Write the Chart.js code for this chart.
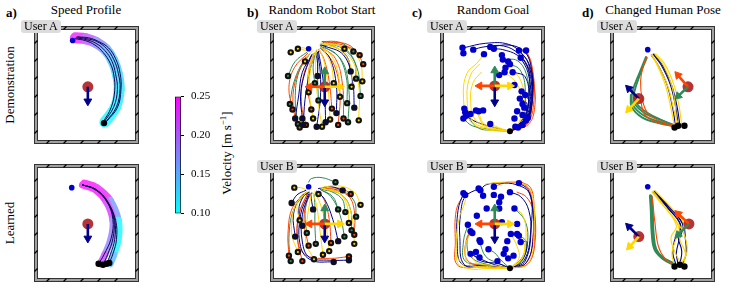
<!DOCTYPE html>
<html>
<head>
<meta charset="utf-8">
<script src="https://cdn.jsdelivr.net/npm/chart.js@4.4.0/dist/chart.umd.min.js"></script>
<style>
body { margin: 0; background: #fff; }
#fig { position: relative; width: 747px; height: 292px; font-family: 'Liberation Serif', 'DejaVu Serif', serif; color: #000; overflow: hidden; }
#fig canvas { position: absolute; }
.t { position: absolute; white-space: nowrap; font-size: 13px; line-height: 1; transform: translate(-50%, -50%); }
.v { position: absolute; white-space: nowrap; font-size: 13px; line-height: 1; transform: translate(-50%, -50%) rotate(-90deg); }
.lt { position: absolute; font-weight: bold; font-size: 13px; line-height: 1; }
.user { position: absolute; background: #dcdcdc; border-radius: 3px; font-size: 12px; line-height: 13px; height: 13px; padding: 0 3px; white-space: nowrap; }
</style>
</head>
<body>
<div id="fig">
  <div class="lt" style="left:6px;top:6px">a)</div>
  <div class="lt" style="left:247px;top:6px">b)</div>
  <div class="lt" style="left:412px;top:6px">c)</div>
  <div class="lt" style="left:582px;top:6px">d)</div>
  <div class="t" style="left:86px;top:9px">Speed Profile</div>
  <div class="t" style="left:322px;top:9px">Random Robot Start</div>
  <div class="t" style="left:493px;top:9px">Random Goal</div>
  <div class="t" style="left:663px;top:9px">Changed Human Pose</div>
  <div class="v" style="left:9px;top:85px">Demonstration</div>
  <div class="v" style="left:9px;top:223px">Learned</div>
  <div class="v" style="left:226px;top:153px">Velocity [m s<sup style="font-size:9px">−1</sup>]</div>

  <canvas id="aTop" width="105" height="118" style="left:34px;top:26px"></canvas>
  <canvas id="aBot" width="105" height="118" style="left:34px;top:164px"></canvas>
  <canvas id="cbar" width="50" height="144" style="left:170px;top:83px"></canvas>
  <canvas id="bTop" width="105" height="118" style="left:270px;top:26px"></canvas>
  <canvas id="bBot" width="105" height="118" style="left:270px;top:164px"></canvas>
  <canvas id="cTop" width="105" height="118" style="left:440px;top:26px"></canvas>
  <canvas id="cBot" width="105" height="118" style="left:440px;top:164px"></canvas>
  <canvas id="dTop" width="105" height="118" style="left:610px;top:26px"></canvas>
  <canvas id="dBot" width="105" height="118" style="left:610px;top:164px"></canvas>

  <div class="user" style="left:21px;top:20px">User A</div>
  <div class="user" style="left:257px;top:20px">User A</div>
  <div class="user" style="left:257px;top:160px">User B</div>
  <div class="user" style="left:427px;top:20px">User A</div>
  <div class="user" style="left:427px;top:160px">User B</div>
  <div class="user" style="left:597px;top:20px">User A</div>
  <div class="user" style="left:597px;top:160px">User B</div>
</div>
<script>
// room coordinates: x to the right, y downwards, 105 x 118 units per room

// a) speed profile
const aDemoGoal = [[37, 10]];
const aDemoEnd = [[72, 101]];
const aDemoHuman = [[54, 61]];
const aDemoFacing = { navy: [0, 54, 81] };
const aDemoBand = [[40, 7], [52, 8], [63, 12], [74, 20], [82, 32], [87, 47], [89, 64], [85, 83], [73, 100]];
const aDemoSpeed = [0.25, 0.23, 0.19, 0.16, 0.14, 0.13, 0.12, 0.11, 0.10];
const aDemoPaths = [
  [[41, 7], [52, 9], [63, 13], [73, 21], [81, 33], [85, 47], [87, 64], [83, 83], [72, 100]],
  [[42, 6], [53, 8], [64, 11], [75, 19], [83, 31], [88, 46], [90, 63], [86, 83], [74, 100]],
  [[40, 8], [51, 10], [62, 15], [71, 23], [79, 35], [83, 48], [84, 65], [80, 84], [71, 100]],
  [[43, 6], [55, 7], [66, 11], [77, 18], [85, 30], [90, 46], [91, 64], [87, 84], [75, 99]]
];

const aLearnGoal = [[36, 20]];
const aLearnHuman = [[54, 60]];
const aLearnFacing = { navy: [0, 54, 80] };
const aLearnBandOuter = [[50, 15], [64, 20], [79, 34], [88, 56], [88, 77], [83, 94], [79, 104]];
const aLearnSpeedOuter = [0.25, 0.25, 0.22, 0.11, 0.10, 0.11, 0.18];
const aLearnBandInner = [[48, 17], [62, 22], [75, 36], [82, 56], [80, 76], [73, 94], [68, 104]];
const aLearnSpeedInner = [0.25, 0.25, 0.25, 0.20, 0.17, 0.19, 0.24];
const aLearnPaths = [
  [[48, 17], [62, 22], [75, 35], [82, 55], [80, 76], [72, 94], [66, 104]],
  [[48, 17], [62, 22], [75, 35], [83, 55], [82, 76], [76, 94], [71, 105]],
  [[48, 17], [63, 22], [76, 35], [84, 56], [84, 77], [79, 94], [75, 104]],
  [[48, 17], [63, 22], [76, 36], [85, 56], [86, 77], [82, 93], [78, 103]]
];

// colour bar
const cbarRange = [0.10, 0.25];
const cbarTicks = [0.10, 0.15, 0.20, 0.25];

// b) random robot start (paths run from start to goal)
const bTopGoal = [[37, 19]];
const bTopHuman = [[55, 61]];
const bTopFacing = { green: [0, 55, 40], navy: [0, 55, 82], orange: [0, 34, 61], gold: [0, 76, 61] };
const bTopGreen = [
  [[14, 49], [22, 33], [35, 23]],
  [[25, 102], [22, 75], [26, 45], [38, 25]],
  [[95, 71], [91, 40], [77, 20], [53, 12]],
  [[87, 22], [72, 12], [52, 11]],
  [[48, 76], [47, 50], [47, 30], [46, 21]],
  [[80, 79], [79, 50], [69, 26], [50, 16]],
  [[44, 57], [42, 40], [44, 25]],
  [[16, 80], [20, 58], [28, 38], [38, 25]],
  [[90, 52], [88, 32], [74, 17], [52, 13]],
  [[81, 100], [82, 65], [74, 32], [52, 15]]
];
const bTopOrange = [
  [[19, 86], [15, 62], [21, 40], [36, 24]],
  [[34, 103], [29, 80], [31, 50], [40, 26]],
  [[94, 26], [80, 14], [55, 12]],
  [[76, 96], [75, 60], [67, 30], [51, 17]],
  [[63, 85], [60, 55], [54, 30], [48, 20]],
  [[98, 36], [90, 22], [72, 14], [54, 13]],
  [[40, 86], [36, 62], [38, 38], [43, 24]],
  [[27, 106], [20, 85], [22, 55], [34, 28]],
  [[70, 103], [72, 70], [66, 38], [52, 18]]
];
const bTopNavy = [
  [[31, 103], [33, 75], [38, 45], [44, 24]],
  [[46, 105], [50, 75], [50, 45], [47, 23]],
  [[68, 90], [68, 60], [61, 30], [50, 18]],
  [[88, 84], [86, 55], [76, 26], [52, 15]],
  [[47, 49], [47, 35], [45, 24]],
  [[22, 96], [26, 70], [30, 45], [40, 27]],
  [[84, 44], [80, 28], [66, 17], [50, 15]],
  [[30, 96], [28, 70], [33, 45], [41, 25]],
  [[56, 100], [55, 72], [52, 45], [48, 22]]
];
const bTopGold = [
  [[17, 23], [26, 20], [35, 21]],
  [[25, 19], [31, 18], [36, 20]],
  [[37, 67], [37, 45], [41, 28], [46, 20]],
  [[42, 96], [38, 70], [39, 42], [44, 24]],
  [[85, 61], [84, 38], [72, 20], [52, 14]],
  [[93, 98], [93, 60], [83, 28], [55, 13]],
  [[77, 19], [66, 14], [50, 13]],
  [[65, 57], [62, 36], [53, 19]],
  [[61, 97], [59, 65], [55, 36], [49, 19]],
  [[33, 33], [37, 26], [42, 21]],
  [[72, 72], [70, 46], [62, 26], [50, 17]],
  [[52, 105], [48, 80], [45, 50], [45, 23]],
  [[97, 55], [95, 35], [84, 20], [56, 13]]
];

const bBotGoal = [[37, 19]];
const bBotHuman = [[55, 60]];
const bBotFacing = { green: [0, 55, 39], navy: [0, 55, 80], orange: [0, 34, 60], gold: [0, 76, 60] };
const bBotGreen = [
  [[85, 67], [84, 45], [74, 28], [52, 22]],
  [[77, 74], [72, 50], [62, 30], [50, 22]],
  [[17, 101], [15, 75], [20, 45], [34, 25]],
  [[70, 44], [64, 30], [50, 22]],
  [[67, 14], [52, 9], [40, 10], [37, 14]],
  [[45, 82], [44, 60], [44, 40], [43, 27]],
  [[78, 47], [74, 32], [58, 22]],
  [[90, 52], [88, 35], [75, 24], [54, 21]],
  [[35, 70], [33, 50], [36, 33], [41, 26]]
];
const bBotOrange = [
  [[82, 96], [60, 98], [35, 95], [25, 80], [26, 50], [36, 26]],
  [[30, 101], [25, 80], [26, 50], [36, 26]],
  [[62, 81], [60, 55], [55, 35], [48, 24]],
  [[84, 27], [74, 21], [55, 21]],
  [[88, 72], [88, 45], [80, 28], [56, 21]],
  [[37, 84], [32, 60], [34, 38], [40, 26]],
  [[15, 95], [14, 70], [19, 42], [34, 25]]
];
const bBotNavy = [
  [[82, 100], [60, 100], [38, 97], [30, 80], [30, 50], [38, 27]],
  [[22, 74], [20, 50], [28, 30], [37, 25]],
  [[70, 79], [64, 55], [55, 33], [46, 24]],
  [[75, 23], [62, 19], [48, 21]],
  [[42, 44], [40, 32], [40, 26]],
  [[18, 37], [24, 28], [34, 23]],
  [[65, 102], [40, 100], [28, 85], [28, 50], [37, 27]],
  [[30, 62], [26, 45], [31, 30], [38, 25]]
];
const bBotGold = [
  [[27, 56], [24, 40], [30, 28], [38, 24]],
  [[25, 91], [18, 70], [22, 40], [35, 25]],
  [[43, 99], [34, 80], [36, 50], [40, 27]],
  [[95, 39], [88, 25], [70, 18], [50, 20]],
  [[53, 94], [50, 70], [46, 40], [42, 26]],
  [[82, 59], [80, 40], [70, 25], [52, 21]],
  [[21, 20], [28, 20], [34, 22]],
  [[48, 27], [44, 24]],
  [[60, 90], [56, 60], [50, 38], [44, 25]],
  [[88, 82], [86, 55], [76, 30], [54, 21]]
];

// c) random goal (paths run from the common start to each goal)
const cTopStart = [[72, 110]];
const cTopHuman = [[55, 60]];
const cTopFacing = { green: [0, 55, 39], navy: [0, 55, 82], orange: [0, 34, 60], gold: [0, 76, 60] };
const cTopGoals = [[19, 18], [20, 24], [31, 20], [43, 25], [50, 17], [54, 19], [63, 26], [64, 31], [70, 33], [82, 21],
  [90, 21], [84, 29], [75, 45], [66, 45], [60, 48], [77, 59], [85, 66], [83, 74], [80, 88], [86, 92], [90, 98], [92, 95],
  [77, 96], [81, 106], [21, 85], [37, 88], [42, 87], [23, 93], [20, 96], [22, 89], [50, 102], [88, 84], [86, 80],
  [89, 70], [67, 40], [72, 36], [78, 105], [86, 103], [34, 87], [28, 91]];
const cTopNavy = [
  [[72, 110], [88, 99], [95, 72], [92, 45], [84, 29]],
  [[72, 110], [90, 100], [97, 70], [94, 40], [86, 25], [70, 14], [45, 13], [20, 18]],
  [[72, 110], [89, 99], [96, 72], [93, 42], [82, 25], [65, 16], [43, 17], [31, 20]],
  [[72, 110], [87, 98], [93, 72], [89, 50], [77, 45]],
  [[72, 110], [82, 102], [90, 98]],
  [[72, 110], [86, 97], [91, 80], [83, 74]],
  [[72, 110], [90, 99], [98, 62], [93, 35], [82, 21]],
  [[72, 110], [88, 97], [94, 62], [91, 38], [80, 26], [64, 20], [54, 19]],
  [[72, 110], [55, 106], [35, 100], [23, 93]],
  [[72, 110], [89, 98], [95, 80], [89, 70]],
  [[72, 110], [91, 100], [97, 66], [95, 36], [88, 22], [72, 15], [50, 17]]
];
const cTopOrange = [
  [[72, 110], [92, 101], [99, 72], [97, 42], [90, 24], [82, 21]],
  [[72, 110], [91, 100], [98, 65], [96, 35], [90, 21]],
  [[72, 110], [93, 102], [100, 80], [98, 55], [93, 40], [86, 33]],
  [[72, 110], [90, 101], [96, 85], [88, 84]]
];
const cTopGreen = [
  [[72, 110], [88, 98], [93, 70], [90, 46], [80, 32], [64, 31]],
  [[72, 110], [52, 108], [30, 104], [20, 96]],
  [[72, 110], [86, 96], [89, 62], [83, 42], [72, 36]],
  [[72, 110], [55, 109], [36, 106], [22, 89]],
  [[72, 110], [90, 100], [95, 78], [86, 92]]
];
const cTopGold = [
  [[72, 110], [45, 108], [26, 97], [20, 70], [24, 46], [35, 35], [43, 25]],
  [[72, 110], [48, 107], [30, 98], [24, 72], [28, 48], [38, 36]],
  [[72, 110], [50, 106], [33, 97], [28, 75], [31, 56], [40, 45]],
  [[72, 110], [56, 106], [42, 101], [37, 88]],
  [[72, 110], [58, 108], [44, 105], [34, 87]],
  [[72, 110], [86, 95], [88, 70], [82, 50], [75, 45]],
  [[72, 110], [84, 96], [84, 70], [78, 55], [66, 45]],
  [[72, 110], [62, 107], [50, 102]]
];

const cBotStart = [[72, 109]];
const cBotHuman = [[55, 60]];
const cBotFacing = { green: [0, 55, 39], navy: [0, 55, 81], orange: [0, 34, 60], gold: [0, 76, 60] };
const cBotGoals = [[20, 26], [22, 28], [37, 21], [39, 23], [42, 29], [54, 19], [54, 28], [62, 30], [72, 25], [82, 15],
  [60, 43], [77, 43], [46, 43], [35, 51], [28, 68], [30, 70], [38, 78], [39, 80], [28, 93], [34, 91], [38, 97],
  [48, 88], [58, 101], [65, 93], [70, 98], [73, 71], [80, 71], [82, 73], [84, 80], [69, 79], [67, 88], [76, 95],
  [25, 61], [80, 60], [60, 36], [63, 58]];
const cBotNavy = [
  [[72, 109], [40, 106], [18, 104], [13, 80], [14, 45], [20, 26]],
  [[72, 109], [45, 107], [21, 105], [16, 75], [17, 48], [22, 30], [37, 21]],
  [[72, 109], [90, 103], [98, 75], [97, 40], [92, 22], [82, 15]],
  [[72, 109], [88, 100], [95, 70], [93, 45], [84, 30], [72, 25]],
  [[72, 109], [60, 104], [40, 101], [30, 93]],
  [[72, 109], [89, 101], [96, 60], [94, 27], [80, 17], [60, 15], [45, 17], [39, 23]],
  [[72, 109], [55, 105], [40, 99], [28, 93]],
  [[72, 109], [86, 99], [91, 80], [84, 80]]
];
const cBotOrange = [
  [[72, 109], [92, 104], [100, 80], [99, 40], [95, 20], [85, 14]],
  [[72, 109], [91, 102], [98, 70], [97, 35], [90, 18], [70, 14], [54, 19]],
  [[72, 109], [35, 108], [13, 105], [11, 80], [12, 45], [20, 28]],
  [[72, 109], [50, 106], [30, 104], [22, 95], [24, 75], [28, 68]],
  [[72, 109], [93, 103], [100, 70], [98, 45], [90, 30], [80, 25]]
];
const cBotGreen = [
  [[72, 109], [45, 105], [22, 101], [20, 80], [25, 61]],
  [[72, 109], [86, 100], [92, 75], [88, 55], [77, 43]],
  [[72, 109], [58, 103], [45, 96], [38, 80]],
  [[72, 109], [85, 98], [90, 80], [80, 71]],
  [[72, 109], [62, 100], [55, 92], [48, 88]],
  [[72, 109], [44, 104], [28, 96], [24, 80], [28, 68]]
];
const cBotGold = [
  [[72, 109], [40, 108], [16, 106], [12, 85], [15, 55], [22, 35], [22, 28]],
  [[72, 109], [48, 107], [26, 104], [22, 85], [28, 70]],
  [[72, 109], [55, 106], [35, 103], [30, 95], [34, 91]],
  [[72, 109], [85, 99], [90, 70], [86, 50], [77, 43]],
  [[72, 109], [86, 98], [88, 82], [82, 73]],
  [[72, 109], [50, 109], [25, 109], [14, 98]],
  [[72, 109], [93, 103], [99, 60], [96, 25], [85, 15], [62, 14], [45, 16]],
  [[72, 109], [82, 98], [80, 85], [73, 71]]
];

// d) changed human pose (paths run from start to goal)
const dTopGoal = [[36, 20]];
const dTopStarts = [[66, 106], [70, 104], [77, 104]];
const dTopHumans = [[26, 74], [81, 61]];
const dTopFacing = { navy: [0, 12, 60], gold: [0, 12, 89], orange: [1, 67, 45], green: [1, 67, 74] };
const dTopNavy = [
  [[67, 104], [64, 85], [58, 60], [48, 38], [40, 26]],
  [[70, 103], [67, 82], [61, 58], [51, 37], [42, 25]],
  [[72, 104], [69, 84], [63, 60], [53, 38], [43, 25]]
];
const dTopGold = [
  [[66, 105], [62, 85], [56, 60], [47, 38], [40, 26]],
  [[68, 104], [67, 84], [63, 60], [54, 38], [44, 25]],
  [[74, 104], [71, 82], [65, 58], [55, 36], [45, 25]],
  [[71, 105], [65, 86], [59, 62], [49, 40], [41, 26]]
];
const dTopGreen = [
  [[66, 105], [50, 100], [32, 93], [19, 80], [19, 66], [27, 45], [34, 28]],
  [[67, 105], [52, 98], [34, 91], [21, 79], [21, 67], [28, 46], [35, 29]],
  [[65, 104], [48, 101], [30, 95], [18, 83], [17, 70]],
  [[68, 104], [50, 97], [36, 90], [24, 80], [20, 70]]
];
const dTopOrange = [
  [[66, 104], [50, 99], [36, 90], [30, 75], [28, 55], [31, 38], [35, 28]],
  [[67, 105], [48, 101], [33, 92], [28, 76]]
];

const dBotGoal = [[36, 19]];
const dBotStarts = [[66, 107], [72, 105], [77, 107]];
const dBotHumans = [[26, 74], [82, 60]];
const dBotFacing = { navy: [0, 12, 60], gold: [0, 13, 88], orange: [1, 67, 46], green: [1, 67, 75] };
const dBotGreen = [
  [[65, 104], [52, 97], [44, 88], [41, 70], [40, 45], [39, 29]],
  [[66, 105], [53, 98], [45, 88], [42, 70], [41, 45], [40, 30]]
];
const dBotOrange = [
  [[66, 105], [56, 99], [48, 85], [44, 58], [41, 30]]
];
const dBotNavy = [
  [[70, 105], [68, 92], [71, 78], [75, 60], [60, 42], [42, 25]],
  [[72, 104], [74, 90], [70, 75], [72, 60], [58, 42], [43, 26]],
  [[68, 106], [64, 92], [66, 78], [73, 62], [60, 44], [44, 24]],
  [[75, 105], [79, 92], [78, 76], [76, 62], [61, 42], [43, 24]]
];
const dBotGold = [
  [[66, 106], [63, 92], [68, 76], [76, 60], [62, 42], [44, 23]],
  [[76, 106], [78, 92], [72, 78], [70, 62], [56, 42], [42, 24]],
  [[74, 105], [66, 90], [62, 75], [68, 62], [54, 40], [41, 25]],
  [[72, 106], [80, 90], [76, 70], [64, 52], [50, 36], [41, 25]]
];

const palette = { green: '#2e8b57', navy: '#00008b', orange: '#ff4500', gold: '#ffd700' };
const SERIF = "'Liberation Serif', 'DejaVu Serif', serif";

// "cool" colour map, optionally washed towards white
function cool(v, wash) {
  const t = Math.min(1, Math.max(0, (v - cbarRange[0]) / (cbarRange[1] - cbarRange[0])));
  const k = wash || 0;
  const mix = c => Math.round(c * (1 - k) + 255 * k);
  return 'rgb(' + mix(255 * t) + ',' + mix(255 * (1 - t)) + ',255)';
}
const toXY = pts => pts.map(([x, y]) => ({ x, y }));

// walls of the room drawn around the plot area
const walls = {
  id: 'walls',
  afterDraw(chart) {
    const { ctx, width: w, height: h } = chart;
    const t = 4;
    ctx.save();
    ctx.fillStyle = '#a0a0a0';
    ctx.beginPath();
    ctx.rect(0, 0, w, h);
    ctx.rect(t, t, w - 2 * t, h - 2 * t);
    ctx.fill('evenodd');
    ctx.strokeStyle = '#333';
    ctx.lineWidth = 1;
    ctx.strokeRect(0.5, 0.5, w - 1, h - 1);
    ctx.strokeRect(t - 0.5, t - 0.5, w - 2 * t + 1, h - 2 * t + 1);
    ctx.strokeStyle = '#000';
    ctx.lineWidth = 1.3;
    ctx.beginPath();
    for (let x = 14; x < w - 6; x += 17) {
      ctx.moveTo(x - 1.5, t - 0.5); ctx.lineTo(x + 1.5, 0.5);
      ctx.moveTo(x - 1.5, h - 0.5); ctx.lineTo(x + 1.5, h - t + 0.5);
    }
    for (let y = 16; y < h - 6; y += 18) {
      ctx.moveTo(0.5, y + 1.5); ctx.lineTo(t - 0.5, y - 1.5);
      ctx.moveTo(w - t + 0.5, y + 1.5); ctx.lineTo(w - 0.5, y - 1.5);
    }
    ctx.stroke();
    ctx.restore();
  }
};

function pathSet(path, color, width) {
  return { data: toXY(path), showLine: true, pointRadius: 0, borderColor: color, borderWidth: width, tension: 0.4, borderCapStyle: 'round' };
}
function bandSet(path, speed, width) {
  return {
    data: toXY(path), showLine: true, pointRadius: 0, borderWidth: width, tension: 0.4,
    borderCapStyle: 'round', borderJoinStyle: 'round', borderColor: cool(speed[0], 0.25),
    segment: { borderColor: s => cool((speed[s.p0DataIndex] + speed[s.p1DataIndex]) / 2, 0.25) }
  };
}
function dotSet(pts, fill, border, r, bw) {
  return { data: toXY(pts), showLine: false, pointRadius: r, pointBackgroundColor: fill, pointBorderColor: border, pointBorderWidth: bw };
}
function arrowSet(from, to, color) {
  const dx = to[0] - from[0], dy = to[1] - from[1], len = Math.hypot(dx, dy);
  const head = [to[0] - dx / len * 4, to[1] - dy / len * 4];
  return {
    data: toXY([from, head]), showLine: true, borderColor: color, borderWidth: 2.6,
    pointRadius: [0, 4.5], pointStyle: 'triangle', pointRotation: [0, Math.atan2(dx, -dy) * 180 / Math.PI],
    pointBackgroundColor: color, pointBorderColor: color, pointBorderWidth: 1
  };
}

// p: bands, groups (condition -> paths), dots, humans, facing
function drawPanel(id, p) {
  const sets = [];
  (p.bands || []).forEach(b => sets.push(bandSet(b[0], b[1], b[2])));
  Object.entries(p.groups || {}).forEach(([cond, paths]) => {
    paths.forEach(path => sets.push(pathSet(path, p.lineColor || palette[cond], p.widths ? p.widths[cond] : 1.0)));
  });
  if (p.startDots) {
    // black start marker with a small core in the condition colour
    Object.entries(p.groups).forEach(([cond, paths]) => {
      sets.push(dotSet(paths.map(path => path[0]), '#111', '#111', 3.2, 0));
      sets.push(dotSet(paths.map(path => path[0]), palette[cond], palette[cond], 1.1, 0));
    });
  }
  (p.dots || []).forEach(d => sets.push(dotSet(d[0], d[1], d[1], d[2], 0)));
  sets.push(dotSet(p.humans, 'rgba(178,34,34,0.92)', 'rgba(0,0,0,0)', 5.5, 0));
  Object.entries(p.facing).forEach(([cond, f]) => {
    sets.push(arrowSet(p.humans[f[0]], [f[1], f[2]], palette[cond]));
  });
  sets.reverse(); // first dataset is drawn on top
  return new Chart(document.getElementById(id), {
    type: 'scatter',
    data: { datasets: sets },
    options: {
      responsive: false, animation: false, events: [],
      layout: { padding: 0 },
      plugins: { legend: { display: false }, tooltip: { enabled: false } },
      scales: {
        x: { type: 'linear', display: false, min: 0, max: 105 },
        y: { type: 'linear', display: false, min: 0, max: 118, reverse: true }
      }
    },
    plugins: [walls]
  });
}

drawPanel('aTop', {
  bands: [[aDemoBand, aDemoSpeed, 11]],
  groups: { demo: aDemoPaths }, lineColor: '#0b0b55',
  dots: [[aDemoGoal, '#0000cd', 2.8], [aDemoEnd, '#000', 3.2]],
  humans: aDemoHuman, facing: aDemoFacing
});
drawPanel('aBot', {
  bands: [[aLearnBandOuter, aLearnSpeedOuter, 7], [aLearnBandInner, aLearnSpeedInner, 7]],
  groups: { learned: aLearnPaths }, lineColor: '#0b0b55',
  dots: [[aLearnGoal, '#0000cd', 2.8], [aLearnPaths.map(pt => pt[pt.length - 1]), '#000', 3.2]],
  humans: aLearnHuman, facing: aLearnFacing
});
drawPanel('bTop', {
  groups: { green: bTopGreen, orange: bTopOrange, navy: bTopNavy, gold: bTopGold }, startDots: true,
  dots: [[bTopGoal, '#0000cd', 2.8]], humans: bTopHuman, facing: bTopFacing
});
drawPanel('bBot', {
  groups: { green: bBotGreen, orange: bBotOrange, navy: bBotNavy, gold: bBotGold }, startDots: true,
  dots: [[bBotGoal, '#0000cd', 2.8]], humans: bBotHuman, facing: bBotFacing
});
drawPanel('cTop', {
  groups: { green: cTopGreen, orange: cTopOrange, navy: cTopNavy, gold: cTopGold },
  dots: [[cTopGoals, '#0000cd', 3.2], [cTopStart, '#000', 3]], humans: cTopHuman, facing: cTopFacing
});
drawPanel('cBot', {
  groups: { green: cBotGreen, orange: cBotOrange, navy: cBotNavy, gold: cBotGold },
  dots: [[cBotGoals, '#0000cd', 3.2], [cBotStart, '#000', 3]], humans: cBotHuman, facing: cBotFacing
});
drawPanel('dTop', {
  groups: { green: dTopGreen, orange: dTopOrange, navy: dTopNavy, gold: dTopGold },
  widths: { green: 1.8, orange: 1.1, navy: 1.1, gold: 1.1 },
  dots: [[dTopGoal, '#0000cd', 2.8], [dTopStarts, '#000', 3.2]], humans: dTopHumans, facing: dTopFacing
});
drawPanel('dBot', {
  groups: { green: dBotGreen, orange: dBotOrange, navy: dBotNavy, gold: dBotGold },
  widths: { green: 3, orange: 1.1, navy: 1.1, gold: 1.1 },
  dots: [[dBotGoal, '#0000cd', 2.8], [dBotStarts, '#000', 3.2]], humans: dBotHumans, facing: dBotFacing
});

// colour bar
new Chart(document.getElementById('cbar'), {
  type: 'bar',
  data: {
    labels: [''],
    datasets: [{
      data: [cbarRange],
      backgroundColor: c => {
        const a = c.chart.chartArea;
        if (!a) return cool(cbarRange[0]);
        const g = c.chart.ctx.createLinearGradient(0, a.bottom, 0, a.top);
        g.addColorStop(0, cool(cbarRange[0]));
        g.addColorStop(1, cool(cbarRange[1]));
        return g;
      },
      borderColor: '#000', borderWidth: 1, borderSkipped: false,
      barPercentage: 1, categoryPercentage: 1
    }]
  },
  options: {
    responsive: false, animation: false, events: [],
    layout: { padding: { left: 5, top: 5, bottom: 5, right: 0 } },
    plugins: { legend: { display: false }, tooltip: { enabled: false } },
    scales: {
      x: { display: false },
      y: {
        position: 'right', min: cbarRange[0], max: cbarRange[1],
        afterFit: s => { s.width = 39; },
        afterBuildTicks: s => { s.ticks = cbarTicks.map(v => ({ value: v })); },
        ticks: { padding: 7, color: '#000', font: { family: SERIF, size: 11 }, callback: v => v.toFixed(2) },
        grid: { drawOnChartArea: false, tickLength: 3, color: '#000' },
        border: { display: false }
      }
    }
  }
});
</script>
</body>
</html>
